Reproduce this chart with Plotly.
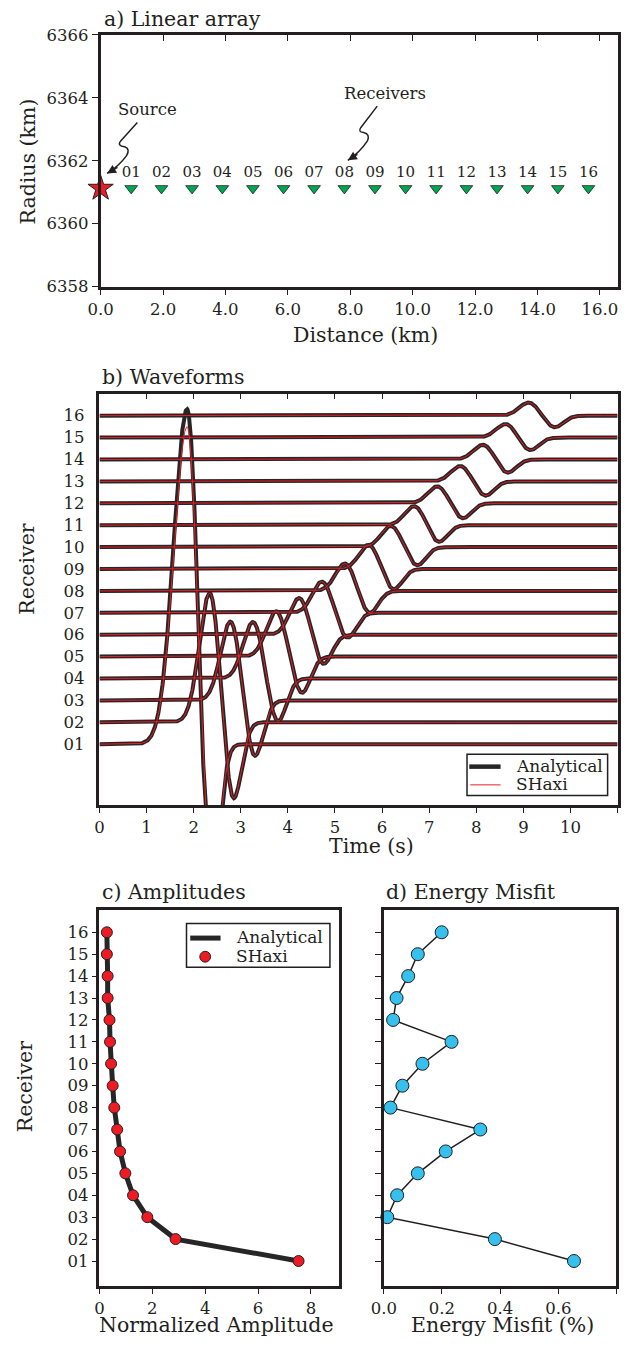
import numpy as np
import plotly.graph_objects as go

INK = "#231f20"
RED = "#ed1c24"
GREEN = "#00a651"
CYAN = "#35c0ee"
FONT = "DejaVu Serif"

receiver_index = list(range(1, 17))
receiver_labels = [f"{i:02d}" for i in receiver_index]

# a) Linear array geometry
source_distance_km = [0.0]
surface_radius_km = 6361.12
receiver_distance_km = [0.98, 1.95, 2.93, 3.90, 4.88, 5.86, 6.84, 7.81,
                        8.79, 9.77, 10.75, 11.72, 12.70, 13.68, 14.65, 15.63]
distance_ticks = [0, 2, 4, 6, 8, 10, 12, 14, 16]
radius_ticks = [6358, 6360, 6362, 6364, 6366]

# b) Waveforms: SH pulse per receiver (peak, trough, widths), trace units
peak_time_s = [1.86, 2.34, 2.78, 3.26, 3.75, 4.24, 4.72, 5.21,
               5.71, 6.18, 6.68, 7.17, 7.66, 8.14, 8.62, 9.11]
peak_amp = [15.3, 5.9, 3.6, 2.58, 2.07, 1.67, 1.42, 1.25,
            1.10, 0.97, 0.87, 0.77, 0.70, 0.67, 0.62, 0.60]
shaxi_peak_amp = [14.5, 5.9, 3.6, 2.58, 2.07, 1.67, 1.42, 1.25,
                  1.10, 0.97, 0.87, 0.77, 0.70, 0.67, 0.62, 0.60]
trough_time_s = [2.38, 2.85, 3.30, 3.79, 4.30, 4.76, 5.27, 5.74,
                 6.25, 6.75, 7.21, 7.72, 8.20, 8.67, 9.15, 9.67]
trough_amp = [6.5, 3.47, 2.53, 1.95, 1.65, 1.33, 1.13, 1.00,
              0.92, 0.83, 0.76, 0.68, 0.65, 0.60, 0.57, 0.53]
rise_width_s = [0.28, 0.22, 0.21, 0.21, 0.21, 0.20, 0.20, 0.20,
                0.20, 0.20, 0.20, 0.20, 0.20, 0.20, 0.20, 0.20]
decay_width_s = [0.17, 0.17, 0.18, 0.18, 0.18, 0.18, 0.18, 0.18,
                 0.18, 0.18, 0.18, 0.18, 0.18, 0.18, 0.18, 0.18]
time_ticks = list(range(0, 12))

# c) Normalized amplitudes
amp_analytical = [7.53, 2.88, 1.81, 1.27, 0.98, 0.78, 0.67, 0.56,
                  0.50, 0.44, 0.40, 0.38, 0.31, 0.31, 0.28, 0.28]
amp_shaxi = [7.53, 2.88, 1.81, 1.27, 0.98, 0.78, 0.67, 0.56,
             0.50, 0.44, 0.40, 0.38, 0.31, 0.31, 0.28, 0.28]
amp_ticks = [0, 2, 4, 6, 8]

# d) Energy misfit (%)
energy_misfit = [0.654, 0.382, 0.012, 0.046, 0.117, 0.213, 0.332, 0.023,
                 0.064, 0.133, 0.233, 0.032, 0.044, 0.084, 0.117, 0.199]
misfit_ticks = [0.0, 0.2, 0.4, 0.6, 0.8]


def pulse(t, tp, ap, tt, at, sl, sr):
    """Peak/trough SH pulse: gaussian onset, cosine swing, gaussian coda."""
    w = np.zeros_like(t)
    left = t < tp
    w[left] = ap * np.exp(-0.5 * ((t[left] - tp) / sl) ** 2)
    mid = (t >= tp) & (t <= tt)
    ph = (t[mid] - tp) / (tt - tp)
    w[mid] = (ap - at) / 2 + (ap + at) / 2 * np.cos(np.pi * ph)
    right = t > tt
    w[right] = -at * np.exp(-0.5 * ((t[right] - tt) / sr) ** 2)
    return w


t = np.linspace(0, 11, 2201)

# page body keeps an 8 px margin, so the figure is 16 px smaller than the window
PAD = 8
W, H = 638 - 2 * PAD, 1360 - 2 * PAD


def dx(px):
    return (px - PAD) / W


def dy(py):
    return 1 - (py - PAD) / H


fig = go.Figure()

# ---- panel a
fig.add_trace(go.Scatter(
    x=receiver_distance_km, y=[surface_radius_km] * 16,
    mode="markers+text", text=receiver_labels, textposition="top center",
    textfont=dict(family=FONT, size=15, color=INK),
    marker=dict(symbol="triangle-down", size=11, color=GREEN,
                line=dict(color=INK, width=0.8)),
    xaxis="x", yaxis="y", showlegend=False, cliponaxis=False))
fig.add_trace(go.Scatter(
    x=source_distance_km, y=[surface_radius_km],
    mode="markers",
    marker=dict(symbol="star", size=19, color=RED,
                line=dict(color=INK, width=1)),
    xaxis="x", yaxis="y", showlegend=False, cliponaxis=False))
fig.add_trace(go.Scatter(x=[], y=[], xaxis="x5", yaxis="y", showlegend=False))

# ---- panel b
for k in range(16):
    y = receiver_index[k] + pulse(t, peak_time_s[k], peak_amp[k], trough_time_s[k],
                                  trough_amp[k], rise_width_s[k], decay_width_s[k])
    fig.add_trace(go.Scatter(
        x=t, y=y, mode="lines", line=dict(color="#262626", width=4),
        name="Analytical", showlegend=False, xaxis="x2", yaxis="y2"))
for k in range(16):
    y = receiver_index[k] + pulse(t, peak_time_s[k], shaxi_peak_amp[k], trough_time_s[k],
                                  trough_amp[k], rise_width_s[k], decay_width_s[k])
    fig.add_trace(go.Scatter(
        x=t, y=y, mode="lines", line=dict(color=RED, width=1),
        name="SHaxi", showlegend=False, xaxis="x2", yaxis="y2"))
fig.add_trace(go.Scatter(x=[], y=[], xaxis="x6", yaxis="y2", showlegend=False))

# ---- panel c
fig.add_trace(go.Scatter(
    x=amp_analytical, y=receiver_index, mode="lines",
    line=dict(color="#262626", width=5), name="Analytical",
    showlegend=False, xaxis="x3", yaxis="y3"))
fig.add_trace(go.Scatter(
    x=amp_shaxi, y=receiver_index, mode="markers",
    marker=dict(size=11, color=RED, line=dict(color=INK, width=1)),
    name="SHaxi", showlegend=False, xaxis="x3", yaxis="y3", cliponaxis=False))

# ---- panel d
fig.add_trace(go.Scatter(
    x=energy_misfit, y=receiver_index, mode="lines+markers",
    line=dict(color=INK, width=1.5),
    marker=dict(size=13, color=CYAN, line=dict(color=INK, width=1)),
    showlegend=False, xaxis="x4", yaxis="y4", cliponaxis=False))

tickfont = dict(family=FONT, size=16.5, color=INK)
box = dict(showline=True, mirror=True, linecolor=INK, linewidth=2.5,
           showgrid=False, zeroline=False, tickcolor=INK, tickwidth=1.2,
           tickfont=tickfont)

fig.update_layout(
    width=W, height=H, margin=dict(l=0, r=0, t=0, b=0),
    paper_bgcolor="white", plot_bgcolor="white", showlegend=False,
    font=dict(family=FONT, color=INK),
    xaxis=dict(**box, domain=[dx(97.5), dx(626)], anchor="y",
               range=[0, 16.58], tickvals=distance_ticks, tickformat=".1f",
               ticks="outside", ticklen=6),
    yaxis=dict(**box, domain=[dy(289.5), dy(34.3)], anchor="x",
               range=[6358, 6366], tickvals=radius_ticks, tickformat="d",
               ticks="outside", ticklen=6),
    xaxis5=dict(overlaying="x", anchor="y", side="top", range=[0, 16.58],
                tickvals=distance_ticks, ticks="inside", ticklen=6,
                tickcolor=INK, tickwidth=1.2, showticklabels=False,
                showline=False, showgrid=False, zeroline=False),
    xaxis2=dict(**box, domain=[dx(96.3), dx(625.5)], anchor="y2",
                range=[0, 11], tickvals=time_ticks,
                ticks="outside", ticklen=5),
    yaxis2=dict(**box, domain=[dy(815.7), dy(398.3)], anchor="x2",
                range=[-1.79, 17.0], tickvals=receiver_index,
                ticktext=receiver_labels, ticks="", ticklabelstandoff=9),
    xaxis6=dict(overlaying="x2", anchor="y2", side="top", range=[0, 11],
                tickvals=time_ticks, ticks="inside", ticklen=5,
                tickcolor=INK, tickwidth=1.2, showticklabels=False,
                showline=False, showgrid=False, zeroline=False),
    xaxis3=dict(**box, domain=[dx(96.3), dx(340.7)], anchor="y3",
                range=[0, 9.05], tickvals=amp_ticks,
                ticks="outside", ticklen=5),
    yaxis3=dict(**box, domain=[dy(1303.3), dy(922.3)], anchor="x3",
                range=[-0.14, 17.0], tickvals=receiver_index,
                ticktext=receiver_labels, ticks="outside", ticklen=5),
    xaxis4=dict(**box, domain=[dx(386.7), dx(624.3)], anchor="y4",
                range=[0, 0.8], tickvals=misfit_ticks, tickformat=".1f",
                ticks="outside", ticklen=5),
    yaxis4=dict(**box, domain=[dy(1303.3), dy(922.3)], anchor="x4",
                range=[-0.14, 17.0], tickvals=receiver_index,
                showticklabels=False, ticks="outside", ticklen=6),
)

# panel titles and axis titles: (text, x, y, angle, anchor)
texts = [
    ("a) Linear array", 99, 18, 0, "left"),
    ("b) Waveforms", 97, 381, 0, "left"),
    ("c) Amplitudes", 96.5, 904, 0, "left"),
    ("d) Energy Misfit", 386.6, 904, 0, "left"),
    ("Radius (km)", 23, 163, -90, "center"),
    ("Distance (km)", 368, 339, 0, "center"),
    ("Receiver", 22, 576, -90, "center"),
    ("Time (s)", 374.5, 857, 0, "center"),
    ("Receiver", 20, 1101, -90, "center"),
    ("Normalized Amplitude", 215.7, 1343, 0, "center"),
    ("Energy Misfit (%)", 508, 1343, 0, "center"),
]
for txt, px, py, rot, anchor in texts:
    fig.add_annotation(text=txt, x=dx(px), y=dy(py), xref="paper", yref="paper",
                       xanchor=anchor, yanchor="middle", textangle=rot,
                       showarrow=False, font=dict(family=FONT, size=20.5, color=INK))


# legend boxes for panels b and c
def legend_box(x0, y0, x1, y1):
    fig.add_shape(type="rect", xref="paper", yref="paper",
                  x0=dx(x0), x1=dx(x1), y0=dy(y1), y1=dy(y0),
                  line=dict(color=INK, width=1.5), fillcolor="white", layer="above")


def legend_line(x0, x1, yc, color, width):
    fig.add_shape(type="line", xref="paper", yref="paper",
                  x0=dx(x0), x1=dx(x1), y0=dy(yc), y1=dy(yc),
                  line=dict(color=color, width=width), layer="above")


def legend_text(txt, x0, yc):
    fig.add_annotation(text=txt, x=dx(x0), y=dy(yc), xref="paper", yref="paper",
                       xanchor="left", yanchor="middle", showarrow=False,
                       font=dict(family=FONT, size=17, color=INK))


legend_box(471.7, 764, 615.3, 805.7)
legend_line(474, 506, 776.5, "#262626", 4.5)
legend_line(475, 506, 795, RED, 1)
legend_text("Analytical", 520, 775.5)
legend_text("SHaxi", 520, 794.5)

legend_box(185.2, 935.6, 331.7, 980)
legend_line(189, 220, 950.4, "#262626", 5)
fig.add_shape(type="circle", xref="paper", yref="paper",
              x0=dx(204.3 - 5.5), x1=dx(204.3 + 5.5),
              y0=dy(969.3 + 5.5), y1=dy(969.3 - 5.5),
              line=dict(color=INK, width=1), fillcolor=RED, layer="above")
legend_text("Analytical", 234, 949)
legend_text("SHaxi", 234, 968.5)

# callouts with squiggly arrows in panel a
fig.add_annotation(text="Source", x=1.49, y=6363.63, xref="x", yref="y",
                   showarrow=False, font=dict(family=FONT, size=16.5, color=INK))
fig.add_annotation(text="Receivers", x=9.12, y=6364.15, xref="x", yref="y",
                   showarrow=False, font=dict(family=FONT, size=16.5, color=INK))
fig.add_shape(type="path", xref="x", yref="y",
              path=("M 1.176 6363.215 L 0.643 6362.630 "
                    "Q 0.518 6362.474 0.769 6362.442 "
                    "Q 0.957 6362.380 0.831 6362.161 "
                    "Q 0.580 6361.817 0.204 6361.597"),
              line=dict(color=INK, width=1.5))
fig.add_shape(type="path", xref="x", yref="y",
              path=("M 8.863 6363.735 L 8.339 6363.059 "
                    "Q 8.235 6362.912 8.424 6362.896 "
                    "Q 8.643 6362.849 8.549 6362.630 "
                    "Q 8.298 6362.255 7.922 6362.014"),
              line=dict(color=INK, width=1.5))
fig.add_annotation(x=0.204, y=6361.597, xref="x", yref="y", text="",
                   showarrow=True, ax=12, ay=-7, arrowhead=2, arrowsize=1.2,
                   arrowwidth=1.5, arrowcolor=INK, standoff=0)
fig.add_annotation(x=7.922, y=6362.014, xref="x", yref="y", text="",
                   showarrow=True, ax=11, ay=-7, arrowhead=2, arrowsize=1.2,
                   arrowwidth=1.5, arrowcolor=INK, standoff=0)

fig.write_html("out.html")
